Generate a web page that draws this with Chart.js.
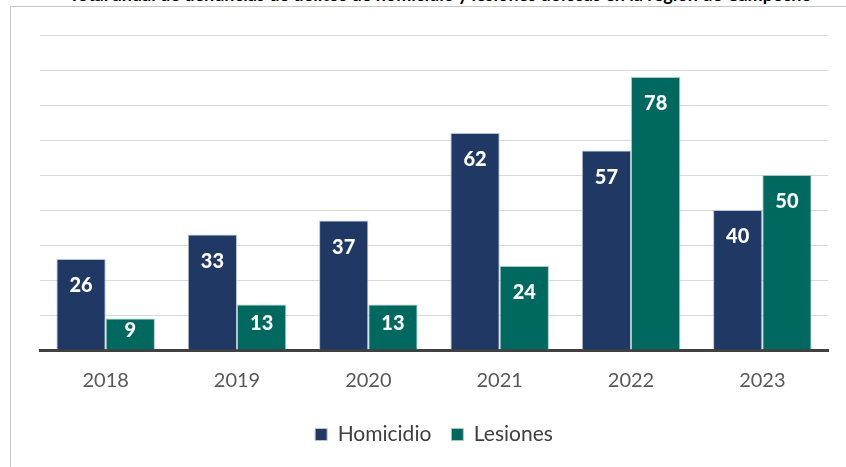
<!DOCTYPE html>
<html>
<head>
<meta charset="utf-8">
<script src="https://cdn.jsdelivr.net/npm/chart.js@4"></script>
<style>
  html, body { margin: 0; padding: 0; background: #fff; overflow: hidden; }
  #wrap { position: relative; width: 846px; height: 467px; }
  #title {
    position: absolute; top: -16px; left: -60px; width: 1000px;
    text-align: center; white-space: nowrap;
    font: bold 18px Lato, sans-serif; line-height: 20px; color: #000;
  }
  canvas { position: absolute; left: 0; top: 0; }
</style>
</head>
<body>
<div id="wrap">
  <div id="title">Total anual de denuncias de delitos de homicidio y lesiones dolosas en la región de Campeche</div>
  <canvas id="chart" width="846" height="467"></canvas>
</div>
<script>
// chart values
const years = ['2018', '2019', '2020', '2021', '2022', '2023'];
const homicidio = [26, 33, 37, 62, 57, 40];
const lesiones = [9, 13, 13, 24, 78, 50];

const navy = '#203864';
const teal = '#00695F';

// frame of the original picture (top and left border)
const framePlugin = {
    id: 'frame',
    beforeDraw(chart) {
        const ctx = chart.ctx;
        ctx.save();
        ctx.strokeStyle = '#c8c8c8';
        ctx.lineWidth = 1;
        ctx.beginPath();
        ctx.moveTo(10.5, 470);
        ctx.lineTo(10.5, 6.5);
        ctx.lineTo(850, 6.5);
        ctx.stroke();
        ctx.restore();
    }
};

// white value labels inside the end of each bar
const valueLabels = {
    id: 'valueLabels',
    afterDatasetsDraw(chart) {
        const ctx = chart.ctx;
        ctx.save();
        ctx.fillStyle = '#fff';
        ctx.font = '900 20px Lato, sans-serif';
        ctx.textAlign = 'center';
        ctx.textBaseline = 'middle';
        chart.data.datasets.forEach(function(ds, i) {
            chart.getDatasetMeta(i).data.forEach(function(bar, j) {
                const mid = (bar.y + bar.base) / 2 - 3;
                const y = Math.min(bar.y + 27, mid);
                ctx.fillText(ds.data[j], bar.x, y);
            });
        });
        ctx.restore();
    }
};

new Chart(document.getElementById('chart'), {
    type: 'bar',
    data: {
        labels: years,
        datasets: [{
            label: 'Homicidio',
            data: homicidio,
            backgroundColor: navy,
            borderColor: '#b8c4d4',
            borderWidth: 1
        }, {
            label: 'Lesiones',
            data: lesiones,
            backgroundColor: teal,
            borderColor: '#a8c8c4',
            borderWidth: 1
        }]
    },
    options: {
        responsive: false,
        animation: false,
        layout: {
            padding: { left: 40, right: 18, top: 35, bottom: 12 }
        },
        datasets: {
            bar: { categoryPercentage: 0.75, barPercentage: 1.0 }
        },
        scales: {
            x: {
                grid: { display: false },
                border: { color: '#404040', width: 3 },
                ticks: {
                    color: '#595959',
                    font: { family: 'Lato', size: 20 },
                    padding: 11
                }
            },
            y: {
                min: 0,
                max: 90,
                ticks: { display: false, stepSize: 10 },
                border: { display: false },
                grid: { color: '#d9d9d9', lineWidth: 1, drawTicks: false }
            }
        },
        plugins: {
            tooltip: { enabled: false },
            legend: {
                position: 'bottom',
                labels: {
                    color: '#404040',
                    font: { family: 'Lato', size: 21 },
                    boxWidth: 12,
                    boxHeight: 12,
                    padding: 20,
                    useBorderRadius: false
                }
            }
        }
    },
    plugins: [framePlugin, valueLabels]
});
</script>
</body>
</html>
